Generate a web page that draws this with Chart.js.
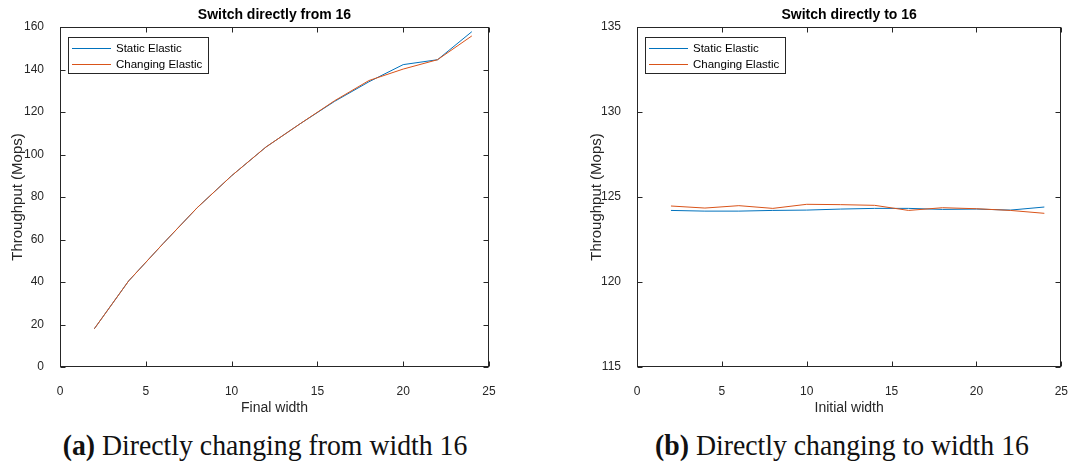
<!DOCTYPE html>
<html>
<head>
<meta charset="utf-8">
<script src="https://cdn.jsdelivr.net/npm/chart.js@4"></script>
<style>
  html, body { margin: 0; padding: 0; background: #fff; overflow: hidden; }
  body { width: 1077px; height: 466px; position: relative; }
  canvas { position: absolute; top: 0; }
  #c1 { left: 0; }
  #c2 { left: 540px; }
  .cap {
    position: absolute; top: 430px; width: 540px; text-align: center;
    font-family: 'Liberation Serif', serif; font-size: 30px; line-height: 30px;
    color: #111; white-space: nowrap; transform: scaleX(0.925);
  }
  .cap b { font-weight: bold; }
</style>
</head>
<body>
<canvas id="c1" width="540" height="420"></canvas>
<canvas id="c2" width="537" height="420"></canvas>
<div class="cap" style="left:-5px"><b>(a)</b> Directly changing from width 16</div>
<div class="cap" style="left:572px"><b>(b)</b> Directly changing to width 16</div>
<script>
/* ── Data ─────────────────────────────────────────────────── */
const widths = [2, 4, 6, 8, 10, 12, 14, 16, 18, 20, 22, 24];

const staticFrom   = [18, 40.5, 58, 75, 90, 103.5, 114.5, 125, 134.2, 142.3, 144.6, 157.8];
const changingFrom = [18, 40.5, 58, 75, 90, 103.5, 114.5, 125.3, 134.8, 140.2, 144.6, 155.8];

const staticTo   = [124.21, 124.17, 124.17, 124.21, 124.23, 124.29, 124.33, 124.33, 124.27, 124.29, 124.23, 124.41];
const changingTo = [124.47, 124.35, 124.49, 124.33, 124.57, 124.55, 124.51, 124.21, 124.37, 124.31, 124.21, 124.04];

const xTicks     = [0, 5, 10, 15, 20, 25];
const yTicksFrom = [0, 20, 40, 60, 80, 100, 120, 140, 160];
const yTicksTo   = [115, 120, 125, 130, 135];

const seriesLabels = ['Static Elastic', 'Changing Elastic'];

/* ── Style ────────────────────────────────────────────────── */
const BLUE = '#0072BD';
const ORANGE = '#D95319';
const AXIS = '#262626';
const FONT = "'Liberation Sans', Arial, sans-serif";

const pts = ys => ys.map((y, i) => ({ x: widths[i], y }));

/* MATLAB-style box, inward ticks, title and legend */
const matlabFrame = {
    id: 'matlabFrame',
    afterDraw(chart, args, opts) {
        const { ctx, chartArea: a, scales: { x, y } } = chart;
        ctx.save();
        ctx.strokeStyle = AXIS;
        ctx.lineWidth = 1;
        const L = Math.round(a.left) + 0.5, R = Math.round(a.right) - 0.5;
        const T = Math.round(a.top) + 0.5, B = Math.round(a.bottom) - 0.5;
        ctx.strokeRect(L, T, R - L, B - T);
        const tk = 5;
        ctx.beginPath();
        x.ticks.forEach(t => {
            const px = Math.round(x.getPixelForValue(t.value)) + 0.5;
            ctx.moveTo(px, B); ctx.lineTo(px, B - tk);
            ctx.moveTo(px, T); ctx.lineTo(px, T + tk);
        });
        y.ticks.forEach(t => {
            const py = Math.round(y.getPixelForValue(t.value)) + 0.5;
            ctx.moveTo(L, py); ctx.lineTo(L + tk, py);
            ctx.moveTo(R, py); ctx.lineTo(R - tk, py);
        });
        ctx.stroke();

        // title
        ctx.fillStyle = '#000';
        ctx.font = 'bold 14px ' + FONT;
        ctx.textAlign = 'center';
        ctx.textBaseline = 'middle';
        ctx.fillText(opts.title, (a.left + a.right) / 2, 15);

        // legend box
        const lx = a.left + 8, ly = a.top + 10, lw = 140, lh = 36;
        ctx.fillStyle = '#fff';
        ctx.fillRect(lx, ly, lw, lh);
        ctx.strokeStyle = AXIS;
        ctx.strokeRect(Math.round(lx) + 0.5, Math.round(ly) + 0.5, lw, lh);
        ctx.font = '11.5px ' + FONT;
        ctx.textAlign = 'left';
        chart.data.datasets.forEach((ds, i) => {
            const ry = Math.round(ly + 11 + i * 15.5) + 0.5;
            ctx.strokeStyle = ds.borderColor;
            ctx.beginPath();
            ctx.moveTo(lx + 4, ry); ctx.lineTo(lx + 43, ry);
            ctx.stroke();
            ctx.fillStyle = '#000';
            ctx.fillText(ds.label, lx + 48, ry);
        });
        ctx.restore();
    },
};

function makeChart(canvasId, cfg) {
    return new Chart(document.getElementById(canvasId), {
        type: 'line',
        data: {
            datasets: [
                { label: seriesLabels[0], data: pts(cfg.staticVals), borderColor: BLUE, order: 2 },
                { label: seriesLabels[1], data: pts(cfg.changingVals), borderColor: ORANGE, order: 1 },
            ],
        },
        options: {
            responsive: false,
            animation: false,
            devicePixelRatio: 1,
            elements: {
                line: { borderWidth: 1, tension: 0, fill: false },
                point: { radius: 0 },
            },
            layout: { padding: { left: cfg.padLeft, right: cfg.padRight, top: 27, bottom: 3 } },
            plugins: {
                legend: { display: false },
                tooltip: { enabled: false },
                title: { display: false },
                matlabFrame: { title: cfg.title },
            },
            scales: {
                x: {
                    type: 'linear',
                    min: xTicks[0],
                    max: xTicks[xTicks.length - 1],
                    afterBuildTicks: s => { s.ticks = xTicks.map(v => ({ value: v })); },
                    afterFit: s => { s.height = 50; },
                    grid: { display: false },
                    border: { display: false },
                    ticks: { color: AXIS, padding: 9, font: { size: 12, family: FONT } },
                    title: {
                        display: true, text: cfg.xTitle, color: AXIS,
                        font: { size: 14, family: FONT }, padding: 0,
                    },
                },
                y: {
                    type: 'linear',
                    min: cfg.yTicks[0],
                    max: cfg.yTicks[cfg.yTicks.length - 1],
                    afterBuildTicks: s => { s.ticks = cfg.yTicks.map(v => ({ value: v })); },
                    afterFit: s => { s.width = cfg.yWidth; },
                    grid: { display: false },
                    border: { display: false },
                    ticks: { color: AXIS, padding: 8, font: { size: 12, family: FONT } },
                    title: {
                        display: true, text: 'Throughput (Mops)', color: AXIS,
                        font: { size: 15, family: FONT }, padding: { top: 1, bottom: 0 },
                    },
                },
            },
        },
        plugins: [matlabFrame],
    });
}

makeChart('c1', {
    title: 'Switch directly from 16',
    xTitle: 'Final width',
    staticVals: staticFrom,
    changingVals: changingFrom,
    yTicks: yTicksFrom,
    padLeft: 8, padRight: 51, yWidth: 52,
});

makeChart('c2', {
    title: 'Switch directly to 16',
    xTitle: 'Initial width',
    staticVals: staticTo,
    changingVals: changingTo,
    yTicks: yTicksTo,
    padLeft: 47, padRight: 9, yWidth: 50,
});
</script>
</body>
</html>
